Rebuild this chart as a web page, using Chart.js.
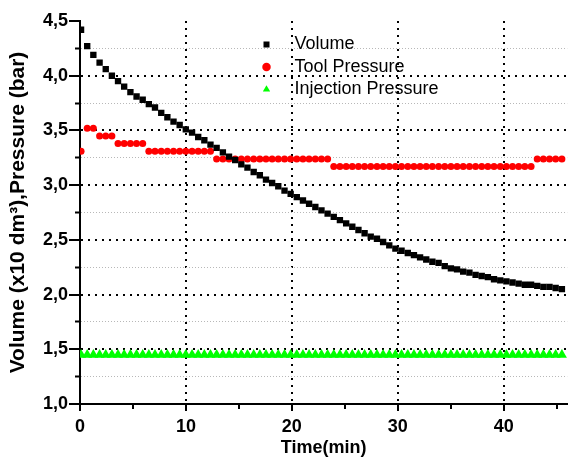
<!DOCTYPE html>
<html>
<head>
<meta charset="utf-8">
<script src="https://cdn.jsdelivr.net/npm/chart.js@4.4.0/dist/chart.umd.min.js"></script>
<style>
  html, body { margin: 0; padding: 0; background: #fff; }
  #wrap { width: 573px; height: 459px; }
</style>
</head>
<body>
<div id="wrap"><canvas id="chart"></canvas></div>
<script>
// time in minutes
const times = [
    0.10, 0.68, 1.26, 1.85, 2.43, 3.01, 3.59, 4.17, 4.76, 5.34,
    5.92, 6.50, 7.08, 7.67, 8.25, 8.83, 9.41, 9.99, 10.58, 11.16,
    11.74, 12.32, 12.90, 13.49, 14.07, 14.65, 15.23, 15.81, 16.40, 16.98,
    17.56, 18.14, 18.72, 19.31, 19.89, 20.47, 21.05, 21.63, 22.22, 22.80,
    23.38, 23.96, 24.54, 25.13, 25.71, 26.29, 26.87, 27.45, 28.04, 28.62,
    29.20, 29.78, 30.36, 30.95, 31.53, 32.11, 32.69, 33.27, 33.86, 34.44,
    35.02, 35.60, 36.18, 36.77, 37.35, 37.93, 38.51, 39.09, 39.68, 40.26,
    40.84, 41.42, 42.00, 42.59, 43.17, 43.75, 44.33, 44.91, 45.50
];

const volume = [
    4.42, 4.27, 4.19, 4.12, 4.06, 4.00, 3.95, 3.90, 3.85, 3.81,
    3.78, 3.74, 3.71, 3.66, 3.62, 3.58, 3.55, 3.51, 3.48, 3.44,
    3.41, 3.37, 3.34, 3.30, 3.26, 3.23, 3.19, 3.16, 3.12, 3.09,
    3.05, 3.02, 2.99, 2.95, 2.92, 2.89, 2.86, 2.83, 2.80, 2.77,
    2.74, 2.71, 2.68, 2.65, 2.62, 2.59, 2.56, 2.53, 2.51, 2.48,
    2.45, 2.42, 2.40, 2.38, 2.36, 2.34, 2.32, 2.30, 2.29, 2.26,
    2.24, 2.23, 2.21, 2.20, 2.18, 2.17, 2.16, 2.14, 2.13, 2.12,
    2.11, 2.10, 2.09, 2.09, 2.08, 2.07, 2.07, 2.06, 2.05
];

const toolPressure = [
    3.31, 3.52, 3.52, 3.45, 3.45, 3.45, 3.38, 3.38, 3.38, 3.38,
    3.38, 3.31, 3.31, 3.31, 3.31, 3.31, 3.31, 3.31, 3.31, 3.31,
    3.31, 3.31, 3.24, 3.24, 3.24, 3.24, 3.24, 3.24, 3.24, 3.24,
    3.24, 3.24, 3.24, 3.24, 3.24, 3.24, 3.24, 3.24, 3.24, 3.24,
    3.24, 3.17, 3.17, 3.17, 3.17, 3.17, 3.17, 3.17, 3.17, 3.17,
    3.17, 3.17, 3.17, 3.17, 3.17, 3.17, 3.17, 3.17, 3.17, 3.17,
    3.17, 3.17, 3.17, 3.17, 3.17, 3.17, 3.17, 3.17, 3.17, 3.17,
    3.17, 3.17, 3.17, 3.17, 3.24, 3.24, 3.24, 3.24, 3.24
];

const injectionPressure = [
    1.45, 1.45, 1.45, 1.45, 1.45, 1.45, 1.45, 1.45, 1.45, 1.45,
    1.45, 1.45, 1.45, 1.45, 1.45, 1.45, 1.45, 1.45, 1.45, 1.45,
    1.45, 1.45, 1.45, 1.45, 1.45, 1.45, 1.45, 1.45, 1.45, 1.45,
    1.45, 1.45, 1.45, 1.45, 1.45, 1.45, 1.45, 1.45, 1.45, 1.45,
    1.45, 1.45, 1.45, 1.45, 1.45, 1.45, 1.45, 1.45, 1.45, 1.45,
    1.45, 1.45, 1.45, 1.45, 1.45, 1.45, 1.45, 1.45, 1.45, 1.45,
    1.45, 1.45, 1.45, 1.45, 1.45, 1.45, 1.45, 1.45, 1.45, 1.45,
    1.45, 1.45, 1.45, 1.45, 1.45, 1.45, 1.45, 1.45, 1.45
];

const xTicks = [0, 5, 10, 15, 20, 25, 30, 35, 40, 45];
const yTicks = [1.0, 1.25, 1.5, 1.75, 2.0, 2.25, 2.5, 2.75, 3.0, 3.25, 3.5, 3.75, 4.0, 4.25, 4.5];

const pairs = (ys) => times.map((t, i) => ({ x: t, y: ys[i] }));
const isMajor = (v) => Math.abs(v * 2 - Math.round(v * 2)) < 1e-6;
const isMinorTick = (ctx) => ctx.tick !== undefined && !isMajor(ctx.tick.value);

Chart.defaults.font.family = '"Liberation Sans", Arial, sans-serif';
Chart.defaults.color = '#000';

// put the legend inside the plot, near the top
const legendSpot = {
    id: 'legendSpot',
    afterLayout(chart) {
        const lg = chart.legend;
        const area = chart.chartArea;
        lg.left = area.left + 173;
        lg.top = area.top + 10;
        lg.right = lg.left + lg.width;
        lg.height = 120;
        lg.bottom = lg.top + 120;
    }
};

const defaultLabels = Chart.defaults.plugins.legend.labels.generateLabels;

const ctx = document.getElementById('chart').getContext('2d');

new Chart(ctx, {
    type: 'scatter',
    data: {
        datasets: [
            {
                label: 'Volume',
                data: pairs(volume),
                pointStyle: 'rect',
                pointRadius: 4.5,
                backgroundColor: '#000',
                borderColor: '#000',
                pointBorderWidth: 0,
            },
            {
                label: 'Tool Pressure',
                data: pairs(toolPressure),
                pointStyle: 'circle',
                pointRadius: 3.5,
                backgroundColor: '#ff0000',
                borderColor: '#ff0000',
                pointBorderWidth: 0,
            },
            {
                label: 'Injection Pressure',
                data: pairs(injectionPressure),
                pointStyle: 'triangle',
                pointRadius: 5.8,
                backgroundColor: '#00ff00',
                borderColor: '#00ff00',
                pointBorderWidth: 0,
            }
        ]
    },
    options: {
        responsive: true,
        maintainAspectRatio: false,
        animation: false,
        events: [],
        layout: { padding: { top: 21, right: 1, bottom: 0, left: 0 } },
        plugins: {
            tooltip: { enabled: false },
            legend: {
                position: 'chartArea',
                align: 'start',
                labels: {
                    usePointStyle: true,
                    boxHeight: 6,
                    padding: 4.5,
                    color: '#000',
                    font: { size: 18 },
                    // a little more room between marker and text
                    generateLabels: (chart) => defaultLabels(chart).map(l => ({ ...l, text: '  ' + l.text }))
                }
            }
        },
        scales: {
            x: {
                type: 'linear',
                min: 0,
                max: 46,
                afterBuildTicks: (s) => { s.ticks = xTicks.map(v => ({ value: v })); },
                afterFit: (s) => { s.height = 55; },
                ticks: {
                    autoSkip: false,
                    maxRotation: 0,
                    padding: 5,
                    color: '#000',
                    font: { size: 18, weight: 'bold' },
                    callback: (v) => (v % 10 === 0 ? String(v) : '')
                },
                grid: {
                    color: (c) => (c.tick && c.tick.value % 10 === 0 && c.tick.value > 0) ? '#000' : 'rgba(0,0,0,0)',
                    lineWidth: 2,
                    tickLength: 7,
                    tickColor: '#000',
                    tickWidth: 2,
                    tickBorderDash: (c) => (c.tick && c.tick.value % 10 !== 0) ? [4, 100] : []
                },
                border: { display: true, color: '#000', width: 2, dash: [2, 5] },
                title: {
                    display: true,
                    text: 'Time(min)',
                    color: '#000',
                    font: { size: 18, weight: 'bold' },
                    padding: { top: 0, bottom: 0 }
                }
            },
            y: {
                type: 'linear',
                min: 1,
                max: 4.5,
                afterBuildTicks: (s) => { s.ticks = yTicks.map(v => ({ value: v })); },
                afterFit: (s) => { s.width = 80; },
                ticks: {
                    autoSkip: false,
                    padding: 1,
                    color: '#000',
                    font: { size: 18, weight: 'bold' },
                    callback: (v) => (isMajor(v) ? v.toFixed(1).replace('.', ',') : '')
                },
                grid: {
                    color: (c) => {
                        if (!c.tick) return '#000';
                        const v = c.tick.value;
                        if (v <= 1.001 || v >= 4.499) return 'rgba(0,0,0,0)';
                        return isMajor(v) ? '#000' : '#b8b8b8';
                    },
                    lineWidth: (c) => (isMinorTick(c) ? 1 : 2),
                    tickLength: 11,
                    tickColor: '#000',
                    tickWidth: 2,
                    tickBorderDash: (c) => (isMinorTick(c) ? [5, 100] : []),
                    tickBorderDashOffset: (c) => (isMinorTick(c) ? 99 : 0)
                },
                border: {
                    display: true,
                    color: '#000',
                    width: 2,
                    dash: (c) => (isMinorTick(c) ? [1, 2] : [2, 5])
                },
                title: {
                    display: true,
                    text: 'Volume (x10 dm³),Pressure (bar)',
                    color: '#000',
                    font: { size: 21, weight: 'bold' },
                    padding: { top: 6, bottom: 0 }
                }
            }
        }
    },
    plugins: [legendSpot]
});
</script>
</body>
</html>
